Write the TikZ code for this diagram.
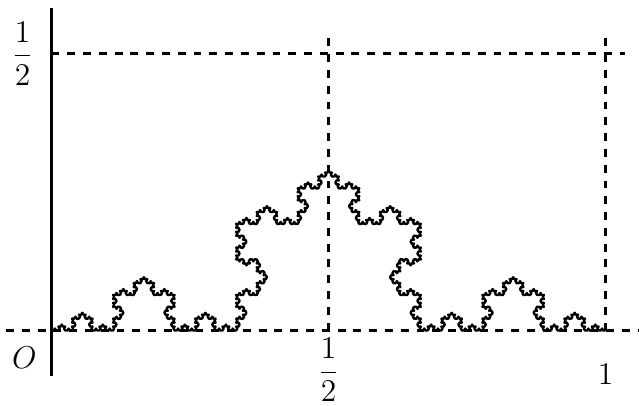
\documentclass[tikz,border=0pt]{standalone}
\usetikzlibrary{lindenmayersystems}
\pgfdeclarelindenmayersystem{KochCurve}{\rule{F -> F+F--F+F}}
\begin{document}
\begin{tikzpicture}[x=7.4cm,y=7.4cm,
  axisline/.style={line width=0.9pt},
  guide/.style={line width=0.9pt,dashed},
  curve/.style={line width=0.9pt,line join=round},
  lbl/.style={inner sep=0pt,font=\fontsize{13}{15}\selectfont}]
\useasboundingbox (-0.093,-0.1345) rectangle (1.0605,0.5966);
% coordinates
\coordinate (O) at (0,0);
\coordinate (yb) at (0,-0.082);
\coordinate (yt) at (0,0.582);
\coordinate (xl) at (-0.082,0);
\coordinate (xr) at (1.062,0);
\coordinate (hl) at (0,0.5);
\coordinate (hr) at (1.035,0.5);
\coordinate (mb) at (0.5,0);
\coordinate (mt) at (0.5,0.539);
\coordinate (rb) at (1,0);
\coordinate (rt) at (1,0.539);
% axis and guides
\draw[axisline] (yb) -- (yt);
\draw[guide] (xl) -- (xr);
\draw[guide] (hl) -- (hr);
\draw[guide] (mb) -- (mt);
\draw[guide] (rb) -- (rt);
% Koch curve
\draw[curve,lindenmayer system={KochCurve, axiom=F, order=5, step={7.4cm/243}, angle=60}] (O) lindenmayer system;
% labels
\node[lbl] (lhalf) at (-0.052,0.5) {$\displaystyle\frac{1}{2}$};
\node[lbl] (lO) at (-0.049,-0.0487) {$O$};
\node[lbl] (bhalf) at (0.5,-0.0715) {$\displaystyle\frac{1}{2}$};
\node[lbl] (bone) at (1,-0.0785) {$1$};
\end{tikzpicture}
\end{document}
